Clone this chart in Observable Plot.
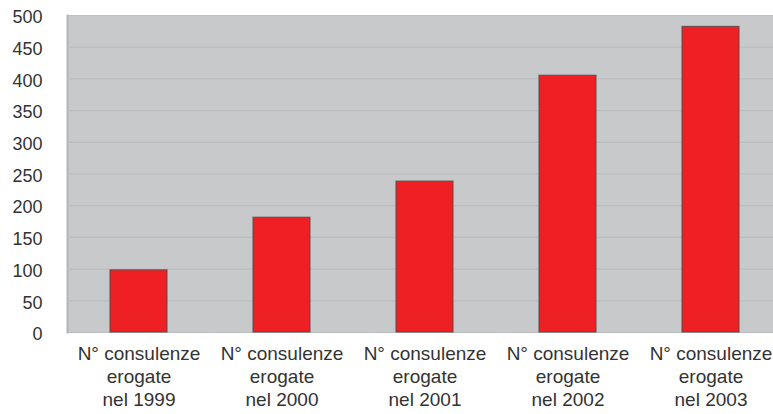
<!DOCTYPE html>
<html>
<head>
<meta charset="utf-8">
<script src="https://cdn.jsdelivr.net/npm/d3@7"></script>
<script src="https://cdn.jsdelivr.net/npm/@observablehq/plot@0.6"></script>
<style>
  html, body { margin: 0; padding: 0; background: #fff; }
</style>
</head>
<body>
<div id="chart"></div>
<script>
const categories = [
  "N° consulenze\nerogate\nnel 1999",
  "N° consulenze\nerogate\nnel 2000",
  "N° consulenze\nerogate\nnel 2001",
  "N° consulenze\nerogate\nnel 2002",
  "N° consulenze\nerogate\nnel 2003"
];
const values = [98, 181, 238, 405, 482];
const yTicks = [0, 50, 100, 150, 200, 250, 300, 350, 400, 450, 500];

const data = categories.map((c, i) => ({category: c, value: values[i]}));

const chart = Plot.plot({
  width: 773,
  height: 414,
  marginLeft: 67,
  marginRight: 0,
  marginTop: 15,
  marginBottom: 82,
  style: {fontFamily: "'Liberation Sans', Arial, sans-serif", background: "#fff", color: "#333"},
  x: {domain: categories, range: [67, 782], paddingInner: 0.6, paddingOuter: 0.3, label: null},
  y: {domain: [0, 500], ticks: yTicks, label: null},
  marks: [
    Plot.frame({fill: "#c8c9cb"}),
    Plot.frame({anchor: "left", stroke: "#b4b5b7", strokeWidth: 2}),
    Plot.gridY(yTicks, {stroke: "#bcbdbf", strokeOpacity: 1, strokeWidth: 1.2}),
    Plot.axisY(yTicks, {tickSize: 0, tickPadding: 25, fontSize: 18, dy: 2, fill: "#333", label: null}),
    Plot.barY(data, {x: "category", y: "value", fill: "#ee2024", stroke: "#5a4a4a", strokeWidth: 1.2, strokeOpacity: 0.8}),
    Plot.axisX({tickSize: 0, tickPadding: 11, fontSize: 19, lineHeight: 1.22, fill: "#333", lineAnchor: "top", label: null})
  ]
});
document.getElementById("chart").appendChild(chart);
</script>
</body>
</html>
